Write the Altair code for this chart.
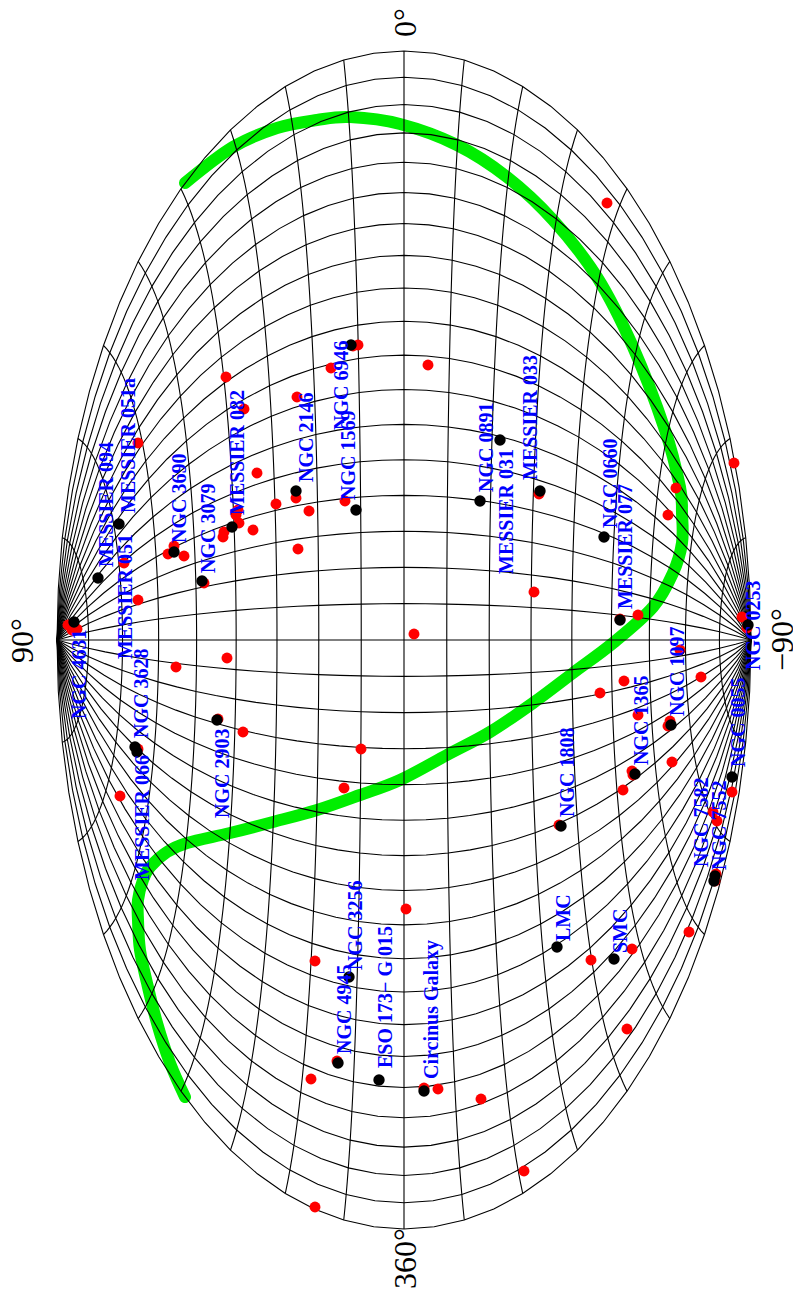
import altair as alt
import pandas as pd

# Graticule of the all-sky map (degrees)
MERIDIANS = list(range(0, 361, 10))
PARALLELS = list(range(-80, 81, 10))
LAT_SAMPLES = list(range(-90, 91, 5))
LON_SAMPLES = list(range(0, 361, 5))

# Points (horizontal, vertical position on the page)
RED_H = [607, 428, 226, 244, 297, 331, 353, 358, 138, 257, 276, 296, 309, 345, 298, 253, 238, 236, 239, 224, 223,
         174, 168, 184, 124, 204, 138, 68, 77, 72, 176, 227, 218, 243, 138, 120, 361, 344,
         734, 676, 668, 539, 534, 414, 620, 638, 680, 701, 624, 600, 638, 670, 668, 672, 632, 633, 623, 559,
         732, 713, 717, 742, 747, 716, 715, 406, 689, 632, 591, 627, 424, 438, 481, 524, 315, 337, 311, 315]
RED_V = [203, 365, 377, 409, 397, 368, 346, 345, 443, 473, 504, 498, 511, 501, 549, 530, 510, 515, 523, 532, 537,
         546, 554, 556, 563, 583, 600, 625, 629, 630, 667, 658, 719, 732, 749, 796, 749, 788,
         463, 488, 515, 494, 592, 634, 619, 615, 650, 677, 681, 693, 715, 721, 726, 762, 771, 775, 790, 825,
         792, 812, 821, 617, 628, 874, 881, 909, 932, 949, 960, 1029, 1088, 1089, 1099, 1171, 961, 1061, 1079, 1207]

BLACK_H = [351, 296, 356, 232, 119, 174, 202, 98, 74, 217, 135, 137, 500, 540, 480, 604, 620, 748, 671, 635, 561,
           732, 715, 714, 557, 614, 424, 349, 338, 379]
BLACK_V = [345, 491, 510, 527, 524, 552, 581, 578, 622, 720, 747, 752, 440, 491, 501, 537, 620, 625, 725, 774, 826,
           777, 876, 881, 947, 959, 1091, 977, 1063, 1080]

GREEN_H = [185, 233, 277, 317, 350, 400, 457, 507, 553, 597, 633, 665, 680, 682, 682, 673, 653, 613, 573, 533, 490,
           447, 400, 360, 317, 273, 230, 187, 167, 150, 143, 138, 138, 140, 147, 157, 170, 185]
GREEN_V = [183, 147, 128, 120, 117, 124, 145, 177, 220, 277, 347, 430, 487, 513, 543, 573, 607, 643, 673, 703, 732,
           755, 780, 795, 810, 822, 833, 843, 852, 867, 880, 900, 920, 950, 983, 1023, 1063, 1097]

NAMES = ["NGC 6946", "NGC 1569", "NGC 2146", "MESSIER 082", "NGC 3690", "NGC 3079", "MESSIER 094", "MESSIER 051a",
         "MESSIER 051", "NGC 3628", "NGC 4631", "MESSIER 066", "NGC 2903", "NGC 3256", "NGC 4945", "ESO 173\u2212 G 015",
         "Circinus Galaxy", "LMC", "SMC", "NGC 1808", "NGC 1365", "NGC 1097", "NGC 7582", "NGC 7552", "NGC 0055",
         "NGC 0253", "MESSIER 077", "NGC 0660", "MESSIER 031", "MESSIER 033", "NGC 0891"]
NAME_H = [342, 349, 307, 238, 180, 209, 107, 129, 126, 142, 80, 143, 223, 356, 345, 386,
          432, 564, 621, 568, 642, 678, 702, 720, 739, 754, 626, 611, 507, 531, 487]
NAME_V = [430, 500, 482, 515, 543, 573, 567, 513, 659, 738, 719, 880, 818, 970, 1054, 1068,
          1079, 941, 953, 817, 765, 716, 867, 870, 767, 670, 609, 528, 574, 480, 492]

AXIS_TEXT = ["0\u00b0", "90\u00b0", "360\u00b0", "\u221290\u00b0"]
AXIS_H = [405.5, 23, 405.5, 783.4]
AXIS_V = [37, 663, 1289, 671]

grid_rows = []
for lon in MERIDIANS:
    for i, lat in enumerate(LAT_SAMPLES):
        grid_rows.append({"line": f"m{lon}", "i": i, "lon": lon, "lat": lat})
for lat in PARALLELS:
    for i, lon in enumerate(LON_SAMPLES):
        grid_rows.append({"line": f"p{lat}", "i": i, "lon": lon, "lat": lat})
grid = pd.DataFrame(grid_rows)

green = pd.DataFrame({"h": GREEN_H, "v": GREEN_V, "i": range(len(GREEN_H))})
red = pd.DataFrame({"h": RED_H, "v": RED_V})
black = pd.DataFrame({"h": BLACK_H, "v": BLACK_V})
names = pd.DataFrame({"h": NAME_H, "v": NAME_V, "t": NAMES})
axis_text = pd.DataFrame({"h": AXIS_H, "v": AXIS_V, "t": AXIS_TEXT})

X = alt.X("h:Q", scale=alt.Scale(domain=[8, 793], nice=False, zero=False), axis=None)
Y = alt.Y("v:Q", scale=alt.Scale(domain=[1292, 8], nice=False, zero=False), axis=None)

green_layer = alt.Chart(green).mark_line(
    color="#00ee00", strokeWidth=12, strokeCap="round", strokeJoin="round", interpolate="cardinal"
).encode(x=X, y=Y, order="i:Q")

grid_layer = (
    alt.Chart(grid)
    .transform_calculate(phi="datum.lat*PI/180", dl="(datum.lon-180)*PI/180")
    .transform_calculate(k="sqrt(1+cos(datum.phi)*cos(datum.dl/2))")
    .transform_calculate(h="404-347*sin(datum.phi)/datum.k", v="640+589*cos(datum.phi)*sin(datum.dl/2)/datum.k")
    .mark_line(color="black", strokeWidth=1.1)
    .encode(x=X, y=Y, detail="line:N", order="i:Q")
)

red_layer = alt.Chart(red).mark_circle(color="#ff0000", size=120, opacity=1).encode(x=X, y=Y)
black_layer = alt.Chart(black).mark_circle(color="#000000", size=130, opacity=1).encode(x=X, y=Y)

name_layer = alt.Chart(names).mark_text(
    angle=270, align="left", baseline="middle", font="Liberation Serif", fontWeight="bold",
    fontSize=20, color="#0000ff").encode(x=X, y=Y, text="t:N")

axis_layer = alt.Chart(axis_text).mark_text(
    angle=270, align="left", baseline="middle", font="Liberation Serif", fontSize=32, color="black"
).encode(x=X, y=Y, text="t:N")

chart = (
    alt.layer(green_layer, grid_layer, red_layer, black_layer, name_layer, axis_layer)
    .properties(width=785, height=1284, padding=0, autosize=alt.AutoSizeParams(type="none"))
    .configure_view(stroke=None)
)

chart.save("out.html", embed_options={"renderer": "svg", "actions": False})
